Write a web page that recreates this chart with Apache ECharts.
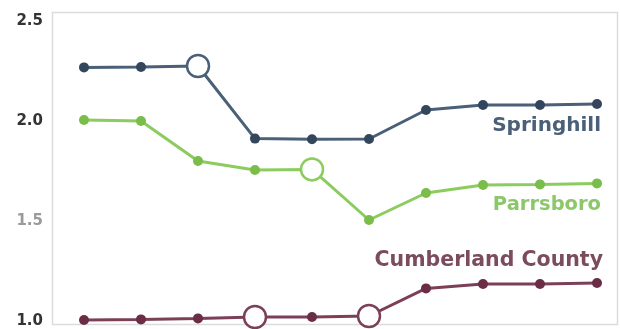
<!DOCTYPE html>
<html>
<head>
<meta charset="utf-8">
<script src="https://cdn.jsdelivr.net/npm/echarts@6/dist/echarts.min.js"></script>
<style>html,body{margin:0;padding:0;background:#fff;}#c{width:620px;height:329px;}</style>
</head>
<body>
<div id="c"></div>
<script>
var categories = ['1','2','3','4','5','6','7','8','9','10'];
var springhill = [2.268, 2.27, 2.275, 1.912, 1.909, 1.91, 2.055, 2.08, 2.08, 2.085];
var parrsboro = [2.005, 2.0, 1.8, 1.755, 1.758, 1.505, 1.64, 1.68, 1.683, 1.688];
var cumberland = [1.005, 1.008, 1.013, 1.02, 1.02, 1.025, 1.163, 1.185, 1.185, 1.19];
var springhillHollow = [2];
var parrsboroHollow = [4];
var cumberlandHollow = [3, 5];
var yTicks = [1.0, 1.5, 2.0, 2.5];

var FONT = '"DejaVu Sans", sans-serif';

function buildData(vals, hollow, lineColor, labelText, labelColor, labelSize, labelOffset) {
  return vals.map(function (v, i) {
    var item = { value: v };
    if (hollow.indexOf(i) >= 0) {
      item.symbolSize = 22;
      item.itemStyle = { color: '#fff', borderColor: lineColor, borderWidth: 2.5 };
    }
    if (i === vals.length - 1) {
      item.label = {
        show: true, position: 'inside', align: 'right', verticalAlign: 'middle',
        offset: labelOffset, formatter: labelText, color: labelColor,
        fontFamily: FONT, fontWeight: 'bold', fontSize: labelSize
      };
    }
    return item;
  });
}

function mkSeries(name, vals, hollow, lineColor, dotColor, labelColor, labelSize, labelOffset) {
  return {
    name: name, type: 'line', data: buildData(vals, hollow, lineColor, name, labelColor, labelSize, labelOffset),
    symbol: 'circle', symbolSize: 10, showSymbol: true,
    lineStyle: { color: lineColor, width: 3 },
    itemStyle: { color: dotColor, borderColor: dotColor, borderWidth: 0 },
    label: { show: false },
    emphasis: { disabled: true },
    animation: false
  };
}

var chart = echarts.init(document.getElementById('c'), null, { renderer: 'canvas' });
chart.setOption({
  backgroundColor: '#fff',
  animation: false,
  graphic: [{
    type: 'rect', silent: true, z: 0,
    shape: { x: 52.5, y: 12.5, width: 565, height: 312 },
    style: { fill: 'none', stroke: '#dcdcdc', lineWidth: 1.5 }
  }],
  grid: { left: 84, right: 23, top: 21, bottom: 8, containLabel: false },
  xAxis: {
    type: 'category', data: categories, boundaryGap: false,
    axisLine: { show: false }, axisTick: { show: false }, axisLabel: { show: false },
    splitLine: { show: false }
  },
  yAxis: {
    type: 'value', min: 1.0, max: 2.5, interval: 0.5,
    axisLine: { show: false }, axisTick: { show: false }, splitLine: { show: false },
    axisLabel: {
      margin: 41, fontFamily: FONT, fontWeight: 'bold', fontSize: 15,
      formatter: function (v) {
        var s = v.toFixed(1);
        return Math.abs(v - 1.5) < 1e-9 ? '{g|' + s + '}' : '{d|' + s + '}';
      },
      rich: {
        d: { color: '#333333', fontFamily: FONT, fontWeight: 'bold', fontSize: 15 },
        g: { color: '#9a9a9a', fontFamily: FONT, fontWeight: 'bold', fontSize: 15 }
      }
    }
  },
  series: [
    mkSeries('Springhill', springhill, springhillHollow, '#4a5f78', '#33465c', '#4a5f78', 20, [4, 22]),
    mkSeries('Parrsboro', parrsboro, parrsboroHollow, '#8ccb5e', '#7bbd4a', '#8cc86a', 19.5, [4, 22]),
    mkSeries('Cumberland County', cumberland, cumberlandHollow, '#7b4058', '#6a2d45', '#7a4c5e', 20.5, [6, -22])
  ]
});
</script>
</body>
</html>
